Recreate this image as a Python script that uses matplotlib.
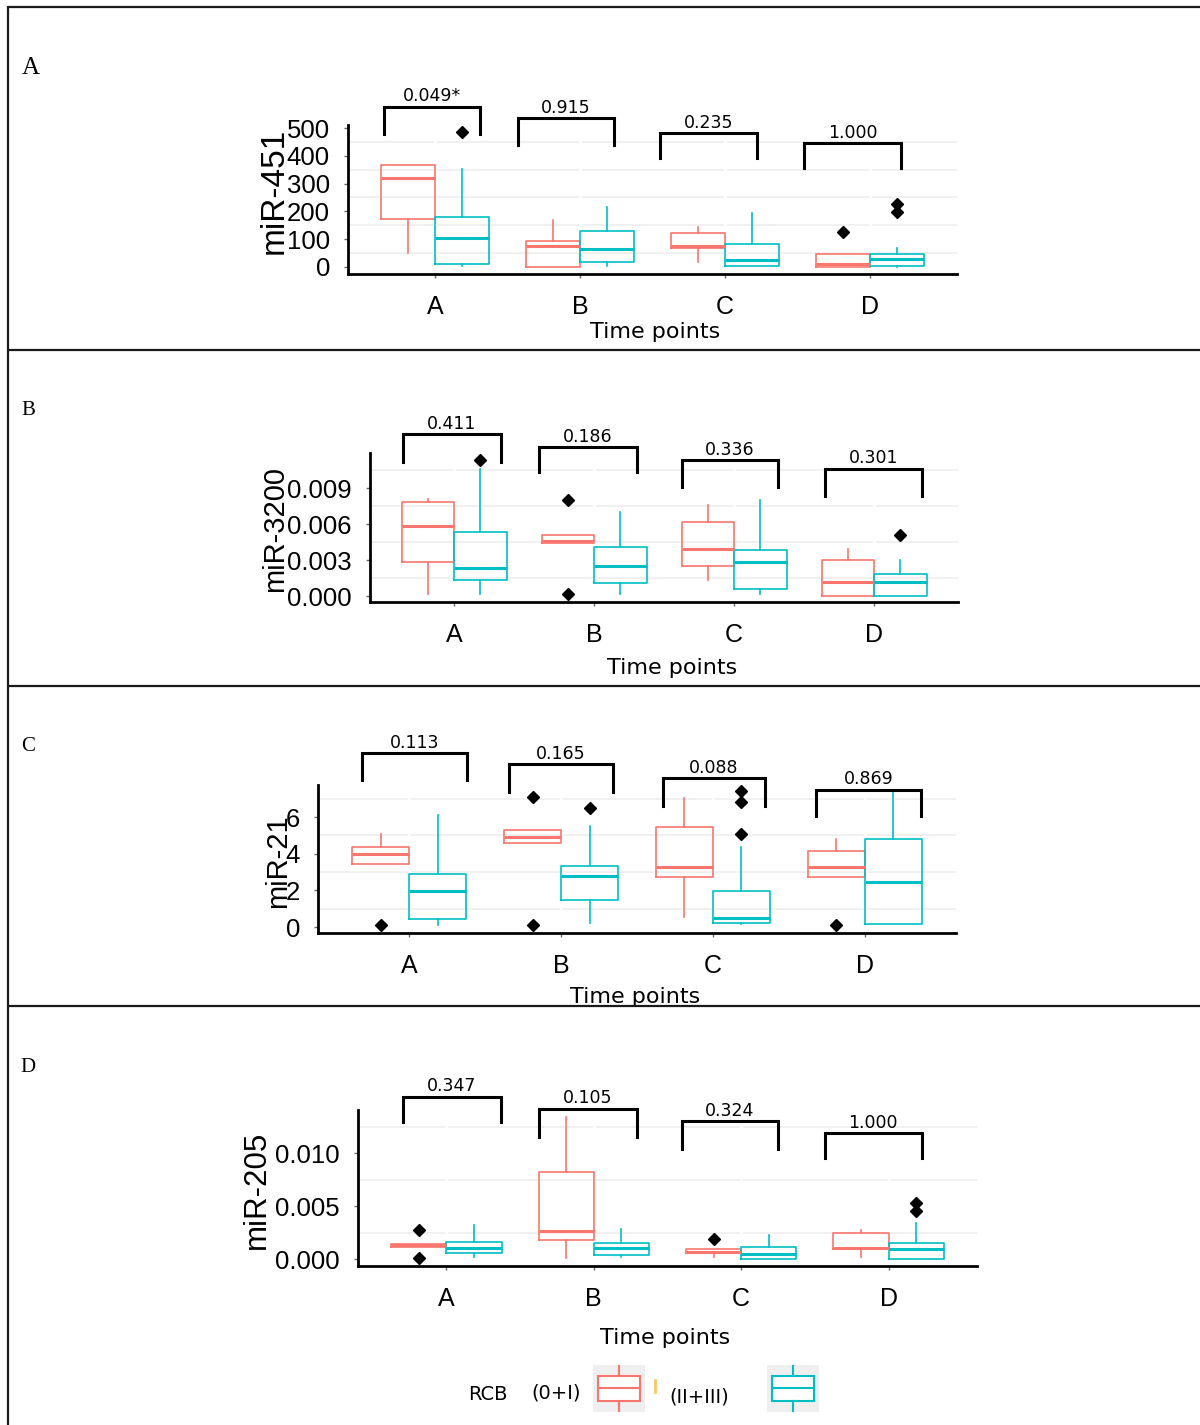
import matplotlib
matplotlib.use("Agg")
import matplotlib.pyplot as plt
from matplotlib.patches import Rectangle

RED = "#F8766D"
CYAN = "#00BFC4"
W, H = 1200, 1425

time_points = ["A", "B", "C", "D"]

# box summaries per time point: (whisker low, q1, median, q3, whisker high)
mir451_low = [(50, 173, 320, 367, 367), (0, 0, 76, 94, 169),
              (18, 68, 75, 122, 144), (0, 0, 10, 47, 47)]
mir451_low_out = [[], [], [], [126]]
mir451_high = [(4, 11, 104, 180, 352), (4, 18, 65, 129, 216),
               (3, 5, 25, 83, 194), (0, 2, 28, 47, 68)]
mir451_high_out = [[485], [], [], [198, 227]]
mir451_p = ["0.049*", "0.915", "0.235", "1.000"]

mir3200_low = [(0.0002, 0.0028, 0.0058, 0.0078, 0.0081), (0.0044, 0.0044, 0.0046, 0.0051, 0.0051),
               (0.0013, 0.0025, 0.0039, 0.0062, 0.0076), (0.0, 0.0, 0.0012, 0.0030, 0.0039)]
mir3200_low_out = [[], [0.0080, 0.0002], [], []]
mir3200_high = [(0.0002, 0.0013, 0.0023, 0.0053, 0.0106), (0.0002, 0.0011, 0.0025, 0.0041, 0.0070),
                (0.0002, 0.0006, 0.0028, 0.0038, 0.0080), (0.0, 0.0, 0.0012, 0.0018, 0.0030)]
mir3200_high_out = [[0.0113], [], [], [0.0051]]
mir3200_p = ["0.411", "0.186", "0.336", "0.301"]

mir21_low = [(3.44, 3.44, 4.0, 4.36, 5.07), (4.58, 4.58, 4.92, 5.3, 5.3),
             (0.53, 2.71, 3.29, 5.47, 7.05), (2.71, 2.71, 3.29, 4.15, 4.8)]
mir21_low_out = [[0.1], [7.1, 0.1], [], [0.1]]
mir21_high = [(0.1, 0.44, 1.96, 2.9, 6.1), (0.2, 1.47, 2.78, 3.33, 5.5),
              (0.15, 0.22, 0.49, 1.96, 4.36), (0.16, 0.16, 2.46, 4.8, 7.36)]
mir21_high_out = [[], [6.49], [5.07, 6.8, 7.4], []]
mir21_p = ["0.113", "0.165", "0.088", "0.869"]

mir205_low = [(0.0011, 0.0011, 0.0013, 0.0014, 0.0014), (0.0001, 0.0018, 0.0026, 0.0082, 0.0134),
              (0.0002, 0.0006, 0.0007, 0.0009, 0.0009), (0.0002, 0.0009, 0.0010, 0.0025, 0.0027)]
mir205_low_out = [[0.0027, 0.0001], [], [0.0019], []]
mir205_high = [(0.0002, 0.0006, 0.0010, 0.0016, 0.0032), (0.0002, 0.0004, 0.0010, 0.0015, 0.0028),
               (0.0, 0.0, 0.0005, 0.0011, 0.0023), (0.0, 0.0, 0.0009, 0.0015, 0.0034)]
mir205_high_out = [[], [], [], [0.0045, 0.0053]]
mir205_p = ["0.347", "0.105", "0.324", "1.000"]

panels = [
    dict(letter="A", label="miR-451", low=mir451_low, low_out=mir451_low_out,
         high=mir451_high, high_out=mir451_high_out, p=mir451_p,
         rect=(348, 125, 957, 274), ylim=(-25.2, 510.8),
         ticks=[0, 100, 200, 300, 400, 500], fmt="{:.0f}", grid=[50, 150, 250, 350, 450],
         br_x=[(0.648, 1.31), (1.572, 2.234), (2.552, 3.221), (3.545, 4.214)],
         br_top=[576, 536, 482, 446], br_leg=[478, 439, 392, 356],
         letter_xy=(31, 68), letter_fs=18, label_xy=(274, 191), label_fs=24,
         xlab_xy=(655, 332)),
    dict(letter="B", label="miR-3200", low=mir3200_low, low_out=mir3200_low_out,
         high=mir3200_high, high_out=mir3200_high_out, p=mir3200_p,
         rect=(370, 453, 958, 602), ylim=(-0.0005, 0.01192),
         ticks=[0, 0.003, 0.006, 0.009], fmt="{:.3f}", grid=[0.0015, 0.0045, 0.0075, 0.0105],
         br_x=[(0.636, 1.336), (1.607, 2.307), (2.629, 3.314), (3.65, 4.343)],
         br_top=[0.0135, 0.0124, 0.0113, 0.0106], br_leg=[0.0112, 0.0103, 0.0091, 0.0083],
         letter_xy=(28, 410), letter_fs=15, label_xy=(275, 529), label_fs=21,
         xlab_xy=(672, 668)),
    dict(letter="C", label="miR-21", low=mir21_low, low_out=mir21_low_out,
         high=mir21_high, high_out=mir21_high_out, p=mir21_p,
         rect=(318, 785, 956, 933), ylim=(-0.327, 7.75),
         ticks=[0, 2, 4, 6], fmt="{:.0f}", grid=[1, 3, 5, 7],
         br_x=[(0.69, 1.38), (1.66, 2.34), (2.67, 3.34), (3.68, 4.37)],
         br_top=[9.5, 8.9, 8.13, 7.5], br_leg=[8.0, 7.36, 6.6, 6.05],
         letter_xy=(28, 746), letter_fs=15, label_xy=(278, 861), label_fs=21,
         xlab_xy=(635, 997)),
    dict(letter="D", label="miR-205", low=mir205_low, low_out=mir205_low_out,
         high=mir205_high, high_out=mir205_high_out, p=mir205_p,
         rect=(358, 1110, 977, 1266), ylim=(-0.00066, 0.01406),
         ticks=[0, 0.005, 0.010], fmt="{:.3f}", grid=[0.0025, 0.0075, 0.0125],
         br_x=[(0.705, 1.369), (1.627, 2.292), (2.597, 3.247), (3.566, 4.224)],
         br_top=[0.0153, 0.0142, 0.0130, 0.0119], br_leg=[0.0129, 0.0115, 0.0104, 0.0095],
         letter_xy=(28, 1067), letter_fs=15, label_xy=(257, 1190), label_fs=22.5,
         xlab_xy=(665, 1338)),
]


def make_stats(summary, outliers):
    stats = []
    for (lo, q1, med, q3, hi), out in zip(summary, outliers):
        stats.append(dict(whislo=lo, q1=q1, med=med, q3=q3, whishi=hi, fliers=out))
    return stats


def draw_boxes(ax, stats, positions, color):
    ax.bxp(stats, positions=positions, widths=0.375, showcaps=False, manage_ticks=False,
           boxprops=dict(color=color, lw=1.2),
           whiskerprops=dict(color=color, lw=1.2),
           medianprops=dict(color=color, lw=2.2),
           flierprops=dict(marker="D", markerfacecolor="black", markeredgecolor="black",
                           markersize=6.5),
           zorder=3)


fig = plt.figure(figsize=(W / 100, H / 100), dpi=100)

# overlay in pixel units for the frame, captions and legend
ov = fig.add_axes([0, 0, 1, 1], zorder=0)
ov.set_xlim(0, W)
ov.set_ylim(H, 0)
ov.axis("off")

xs = list(range(1, len(time_points) + 1))

for pn in panels:
    l, t, r, b = pn["rect"]
    ax = fig.add_axes([l / W, 1 - b / H, (r - l) / W, (b - t) / H], zorder=1)
    ax.set_facecolor("none")
    ax.set_xlim(0.4, 4.6)
    ax.set_ylim(*pn["ylim"])

    for g in pn["grid"]:
        ax.axhline(g, color="#EDEDED", lw=1.2, zorder=0)
    for x in xs:
        ax.axvline(x, color="white", lw=2, zorder=0.5)

    draw_boxes(ax, make_stats(pn["low"], pn["low_out"]), [x - 0.1875 for x in xs], RED)
    draw_boxes(ax, make_stats(pn["high"], pn["high_out"]), [x + 0.1875 for x in xs], CYAN)

    for (x0, x1), top, leg, p in zip(pn["br_x"], pn["br_top"], pn["br_leg"], pn["p"]):
        ax.plot([x0, x0, x1, x1], [leg, top, top, leg], color="black", lw=2.2,
                clip_on=False, solid_joinstyle="miter", zorder=4)
        ax.annotate(p, ((x0 + x1) / 2, top), xytext=(0, 1), textcoords="offset points",
                    ha="center", va="bottom", fontsize=12.5, family="DejaVu Sans",
                    annotation_clip=False)

    for side in ["top", "right"]:
        ax.spines[side].set_visible(False)
    for side in ["left", "bottom"]:
        ax.spines[side].set_linewidth(2)
        ax.spines[side].set_color("black")

    ax.set_xticks(xs)
    ax.set_xticklabels(time_points, fontsize=18, family="Liberation Sans")
    ax.set_yticks(pn["ticks"])
    ax.set_yticklabels([pn["fmt"].format(v) for v in pn["ticks"]], fontsize=18.5,
                       family="Liberation Sans")
    ax.tick_params(axis="x", length=3, width=1, color="#666666", pad=12)
    ax.tick_params(axis="y", length=3, width=1, color="#666666", pad=10)

    ov.text(*pn["letter_xy"], pn["letter"], ha="center", va="center",
            fontsize=pn["letter_fs"], family="Liberation Serif")
    ov.text(*pn["label_xy"], pn["label"], ha="center", va="center", rotation=90,
            fontsize=pn["label_fs"], family="Liberation Sans")
    ov.text(*pn["xlab_xy"], "Time points", ha="center", va="center", fontsize=16,
            family="DejaVu Sans")

# panel C's axis title runs into the next panel
ov.add_patch(Rectangle((300, 1006), 500, 8, facecolor="white", edgecolor="none", zorder=3))

# frame and separators
frame_kw = dict(color="#1a1a1a", lw=1.6, zorder=4, solid_capstyle="butt")
ov.plot([8, 8], [6, H], **frame_kw)
for y in [7, 350, 686, 1006]:
    ov.plot([8, W], [y, y], **frame_kw)

# legend
ov.text(488, 1395, "RCB", ha="center", va="center", fontsize=14, family="DejaVu Sans")
ov.text(556, 1393, "(0+I)", ha="center", va="center", fontsize=14, family="DejaVu Sans")
ov.text(699, 1397, "(II+III)", ha="center", va="center", fontsize=14, family="DejaVu Sans")
ov.plot([655, 655], [1380, 1392], color="#F8C868", lw=2)
for cx, color in [(619, RED), (793, CYAN)]:
    ov.add_patch(Rectangle((cx - 26, 1365), 52, 47, facecolor="#EFEFEF", edgecolor="none"))
    ov.add_patch(Rectangle((cx - 21, 1376), 42, 25, facecolor="white", edgecolor=color, lw=1.5))
    ov.plot([cx - 21, cx + 21], [1388, 1388], color=color, lw=1.5)
    ov.plot([cx, cx], [1366, 1376], color=color, lw=1.5)
    ov.plot([cx, cx], [1401, 1411], color=color, lw=1.5)

fig.savefig("out.png", dpi=100)
